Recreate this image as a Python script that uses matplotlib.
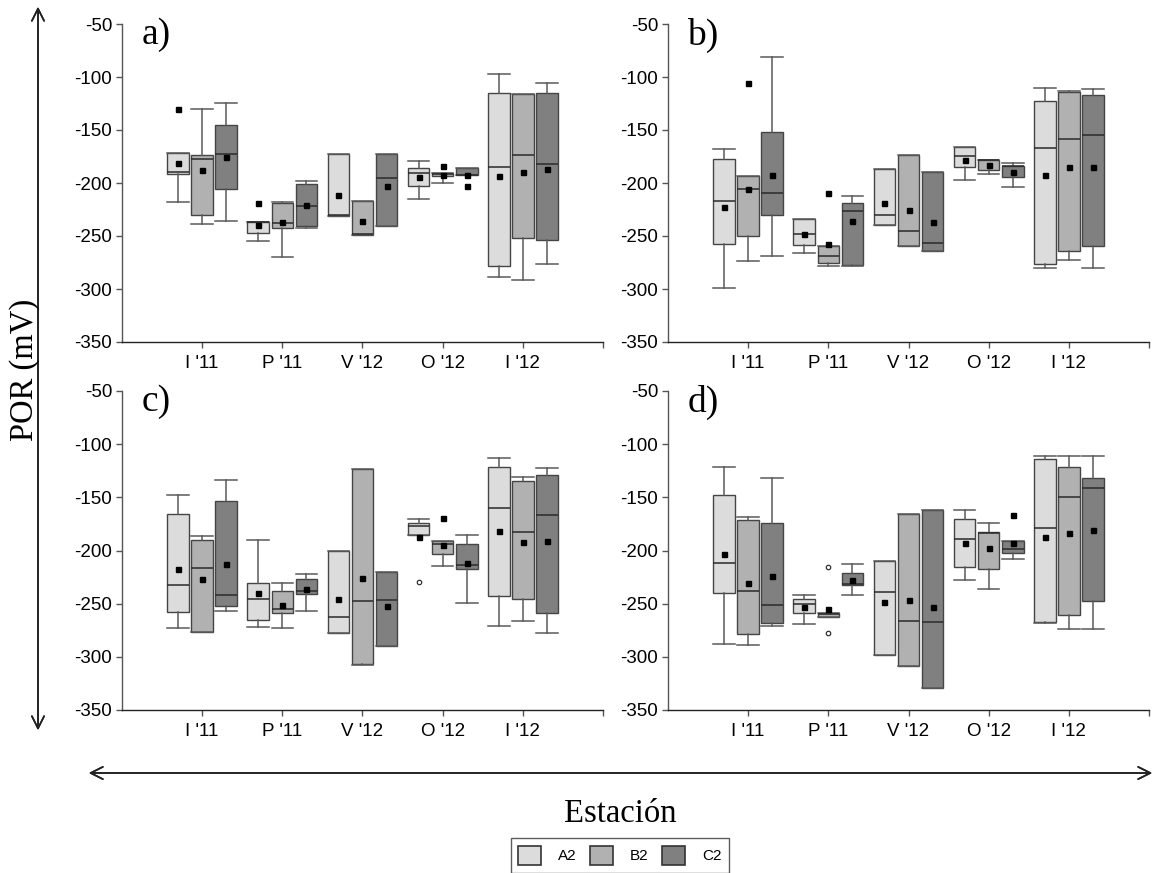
import matplotlib
matplotlib.use('Agg')
import matplotlib.pyplot as plt
from matplotlib.patches import Patch

W, H = 1156, 873

stations = ["I '11", "P '11", "V '12", "O '12", "I '12"]
series = ['A2', 'B2', 'C2']
panel_names = ['a)', 'b)', 'c)', 'd)']
fills = ['#dcdcdc', '#b1b1b1', '#808080']
yticks = [-350, -300, -250, -200, -150, -100, -50]

# ---- panel a (rows: A2, B2, C2; columns: stations) ----
a_lo = [[-218, -254.5, -231, -215.3, -288.8],
        [-238.8, -270.2, -248.9, -200.2, -291.3],
        [-236.3, -242.6, -241, -192.3, -276.5]]
a_q1 = [[-191.4, -247.3, -231, -202.7, -278.7],
        [-230.6, -242.3, -248.9, -193.3, -252.3],
        [-205.5, -240.1, -240.4, -192.3, -253.9]]
a_med = [[-189.2, -237.2, -230, -190.7, -184.5],
         [-177.6, -237.9, -247.9, -191.4, -173.2],
         [-172.5, -221.9, -195.5, -192.3, -182.3]]
a_q3 = [[-171.3, -236.9, -172.2, -186.3, -115.3],
        [-173.2, -219.3, -216.8, -190.1, -116],
        [-144.9, -200.8, -172.2, -185.4, -115.3]]
a_hi = [[-171.3, -236.9, -172.2, -178.8, -97.1],
        [-130.4, -217.5, -216.8, -190.1, -116],
        [-124.5, -198, -172.2, -185.4, -105.9]]
a_mean = [[-181.6, -239.4, -211.2, -194.8, -193],
          [-187.6, -237.2, -236.3, -192, -189.2],
          [-175, -220.3, -202.7, -192, -186.7]]

# ---- panel b ----
b_lo = [[-299.4, -266.1, -239.8, -197, -280.6],
        [-274, -278.1, -259.9, -191.4, -273],
        [-269, -278.4, -263.9, -203.9, -280]]
b_q1 = [[-257.7, -258.6, -239.8, -185.1, -276.8],
        [-249.8, -275.9, -259.9, -187.6, -264.6],
        [-230.6, -277.8, -263.9, -194.5, -259.5]]
b_med = [[-217.1, -247.9, -230.3, -174.7, -166.9],
         [-205.5, -268.7, -245.7, -178.5, -158.7],
         [-209.9, -226.6, -256.7, -184.1, -154.3]]
b_q3 = [[-176.9, -234.1, -187, -165.9, -122.9],
        [-193.6, -259.5, -173.8, -177.9, -114.1],
        [-152.1, -218.4, -189.5, -184.1, -117.2]]
b_hi = [[-168.1, -234.1, -187, -165.9, -110.6],
        [-193.6, -259.5, -173.8, -177.9, -113.5],
        [-80.8, -212.7, -189.5, -181.3, -111.6]]
b_mean = [[-222.8, -247.9, -219.3, -177.9, -192],
          [-205.2, -257.7, -225.9, -182.6, -185.1],
          [-192, -235.4, -236.6, -189.2, -184.5]]

# ---- panel c ----
c_lo = [[-272.6, -271.9, -277.3, -185.1, -271],
        [-277, -272.6, -307.5, -214.3, -266.6],
        [-257.2, -257.2, -289.5, -249.4, -277.9]]
c_q1 = [[-257.5, -265, -277.3, -185.1, -242.5],
        [-276.6, -258.5, -307, -203.3, -245.3],
        [-252.5, -241.2, -289.5, -217.4, -259.1]]
c_med = [[-232.1, -245.9, -262.2, -177, -160],
         [-216.8, -255.3, -247.2, -193.9, -182.9],
         [-241.5, -237.8, -246.6, -213.6, -166.3]]
c_q3 = [[-165.4, -230.3, -200.2, -173.8, -121.2],
        [-190.4, -238.4, -123, -191.4, -134.3],
        [-153.8, -227.1, -220.5, -193.6, -129]]
c_hi = [[-148.1, -189.8, -200.2, -170.1, -113],
        [-186, -230.9, -123, -191.4, -130.6],
        [-133.7, -222.1, -220.5, -185.4, -122.1]]
c_mean = [[-217.1, -239.7, -245.9, -187, -181.3],
          [-226.8, -250.9, -225.9, -194.5, -191.7],
          [-212.4, -236.5, -252.2, -212.1, -190.8]]

# ---- panel d ----
d_lo = [[-287.6, -269.1, -298.3, -227.4, -268.5],
        [-289.2, -262.2, -308.6, -236.2, -273.5],
        [-270.7, -242.2, -329.6, -208, -273.5]]
d_q1 = [[-240, -258.5, -298.3, -215.5, -267.6],
        [-278.2, -262.2, -308.6, -217.1, -261],
        [-268.5, -232.1, -329.6, -202, -247.8]]
d_med = [[-211.8, -250, -239.3, -188.9, -179.2],
         [-237.8, -260, -266.6, -183.9, -149.7],
         [-250.9, -231.5, -267.6, -198.6, -141.5]]
d_q3 = [[-147.8, -245.3, -209.6, -170.4, -113.6],
        [-171, -258.5, -166, -182.6, -121.5],
        [-173.8, -221.5, -161.6, -191, -131.8]]
d_hi = [[-121.8, -242.2, -209.6, -161.9, -110.8],
        [-168.5, -258.5, -166, -174.5, -110.8],
        [-132.1, -212.4, -161.6, -191, -111.4]]
d_mean = [[-203, -252.8, -248.7, -192.6, -187.6],
          [-230.3, -254.7, -246.9, -197.9, -183.2],
          [-224.3, -227.7, -252.8, -192.6, -180.7]]

# extreme values drawn as filled squares: (panel, series, station, value)
square_out = [(0, 0, 0, -129.8), (0, 0, 1, -219.3), (0, 1, 3, -183.5), (0, 2, 3, -203.3),
              (1, 1, 0, -105.3), (1, 1, 1, -209.0),
              (2, 1, 3, -169.1),
              (3, 2, 3, -166.6)]
# outliers drawn as open circles
circle_out = [(2, 0, 3, -229.6), (3, 1, 1, -215.2), (3, 1, 1, -277.9)]

panels = [(a_lo, a_q1, a_med, a_q3, a_hi, a_mean),
          (b_lo, b_q1, b_med, b_q3, b_hi, b_mean),
          (c_lo, c_q1, c_med, c_q3, c_hi, c_mean),
          (d_lo, d_q1, d_med, d_q3, d_hi, d_mean)]

# axes rectangles in pixels: x0, x1, y_top, y_bottom
rects = [(122, 603, 24, 342), (668, 1149, 24, 342),
         (122, 603, 391, 710), (668, 1149, 391, 710)]

offsets = [-0.3, 0.0, 0.3]
bw = 0.27

sans = 'Liberation Sans'
serif = 'Liberation Serif'

fig = plt.figure(figsize=(W / 100, H / 100), dpi=100)

for p, (lo, q1, med, q3, hi, mean) in enumerate(panels):
    x0, x1, yt, yb = rects[p]
    ax = fig.add_axes([x0 / W, (H - yb) / H, (x1 - x0) / W, (yb - yt) / H])
    for s in range(3):
        stats = []
        pos = []
        for k in range(5):
            fl = [v for (pp, ss, kk, v) in square_out if pp == p and ss == s and kk == k]
            stats.append(dict(whislo=lo[s][k], q1=q1[s][k], med=med[s][k], q3=q3[s][k],
                              whishi=hi[s][k], mean=mean[s][k], fliers=fl))
            pos.append(k + 1 + offsets[s])
        ax.bxp(stats, positions=pos, widths=bw, capwidths=bw, patch_artist=True,
               showmeans=True, manage_ticks=False,
               boxprops=dict(facecolor=fills[s], edgecolor='#454545', linewidth=1.0),
               whiskerprops=dict(color='#5a5a5a', linewidth=1.1),
               capprops=dict(color='#5a5a5a', linewidth=1.1),
               medianprops=dict(color='#2a2a2a', linewidth=1.1),
               meanprops=dict(marker='s', markerfacecolor='black', markeredgecolor='black',
                              markersize=3.6, linestyle='none'),
               flierprops=dict(marker='s', markerfacecolor='black', markeredgecolor='black',
                               markersize=3.6, linestyle='none'))
        cx = [kk + 1 + offsets[s] for (pp, ss, kk, v) in circle_out if pp == p and ss == s]
        cy = [v for (pp, ss, kk, v) in circle_out if pp == p and ss == s]
        if cx:
            ax.plot(cx, cy, 'o', mfc='white', mec='#333333', ms=3.2, mew=0.9, linestyle='none')

    ax.set_xlim(0, 6)
    ax.set_ylim(-350, -50)
    ax.set_xticks(range(1, 6))
    ax.set_xticklabels(stations, fontfamily=sans, fontsize=13.5)
    ax.set_xticks([6], minor=True)
    ax.set_yticks(yticks)
    ax.set_yticklabels([str(v) for v in yticks], fontfamily=sans, fontsize=13.5)
    ax.tick_params(axis='both', which='both', direction='out', length=4, width=1,
                   color='#555555', pad=3)
    ax.tick_params(axis='x', pad=5)
    for side in ('top', 'right'):
        ax.spines[side].set_visible(False)
    ax.spines['left'].set_color('#555555')
    ax.spines['bottom'].set_color('#222222')
    ax.spines['left'].set_linewidth(1.0)
    ax.spines['bottom'].set_linewidth(1.0)
    ax.text(0.04, 0.965, panel_names[p], transform=ax.transAxes, fontfamily=serif,
            fontsize=27, ha='left', va='center')

# big arrows
fig.add_artist(plt.annotate('', xy=(38 / W, 1 - 4 / H), xytext=(38 / W, 1 - 733 / H),
                            xycoords='figure fraction', textcoords='figure fraction',
                            arrowprops=dict(arrowstyle='<->', color='#222222', lw=1.2,
                                            mutation_scale=22)))
fig.add_artist(plt.annotate('', xy=(86 / W, 1 - 773 / H), xytext=(1155 / W, 1 - 773 / H),
                            xycoords='figure fraction', textcoords='figure fraction',
                            arrowprops=dict(arrowstyle='<->', color='#222222', lw=1.2,
                                            mutation_scale=22)))

fig.text(25 / W, 1 - 370 / H, 'POR (mV)', rotation=90, fontfamily=serif, fontsize=23.5,
         ha='center', va='center')
fig.text(620 / W, 1 - 814 / H, 'Estación', fontfamily=serif, fontsize=23.5,
         ha='center', va='center')

handles = [Patch(facecolor=fills[i], edgecolor='#333333', linewidth=1.2) for i in range(3)]
fig.legend(handles, series, loc='upper center', bbox_to_anchor=(620 / W, 1 - 838 / H),
           ncol=3, frameon=True, fancybox=False, edgecolor='#333333',
           prop=dict(family=sans, size=11), handlelength=1.5, handleheight=1.6,
           handletextpad=1.1, columnspacing=0.9, borderpad=0.5, borderaxespad=0)

fig.savefig('out.png', dpi=100)
